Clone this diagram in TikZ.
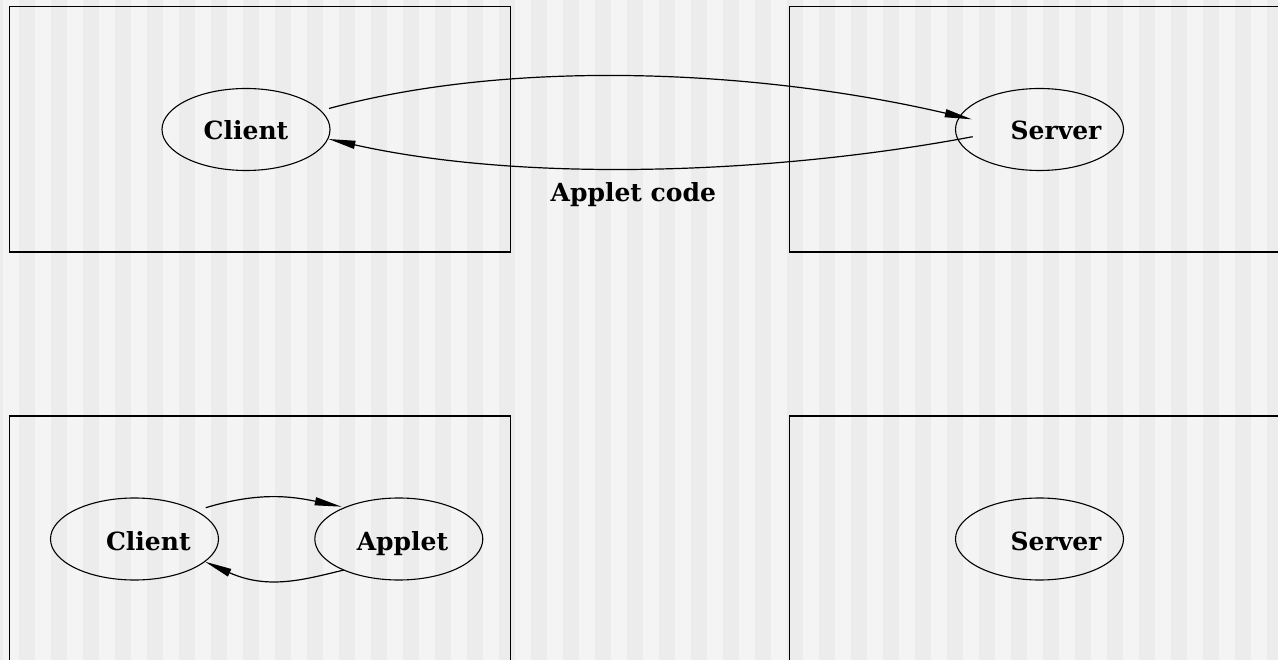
\documentclass[tikz,border=0pt]{standalone}
\usepackage{fontspec}
\newfontfamily\labelfont{DejaVu Serif}
\usetikzlibrary{shapes.geometric,arrows.meta,calc}
\definecolor{stripeA}{HTML}{F4F4F4}
\definecolor{stripeB}{HTML}{ECECEC}
\tikzset{
  ell/.style={draw=black, line width=1.1pt, ellipse, minimum width=168pt, minimum height=82pt, inner sep=0pt},
  lbl/.style={anchor=base, inner sep=0pt, font=\labelfont\fontsize{25}{30}\selectfont\bfseries},
  box/.style={draw=black, line width=1.3pt},
  edge/.style={draw=black, line width=1.2pt, -{Triangle[length=27pt,width=8pt]}}
}
\begin{document}
\begin{tikzpicture}[x=1pt,y=-1pt]
\useasboundingbox (0,0) rectangle (1278,660);
\fill[stripeA] (0,0) rectangle (1278,660);
\foreach \k in {-1,...,39} {
  \fill[stripeB] ({19+32*\k},0) rectangle ({35+32*\k},660);
}
% boxes
\draw[box] (9.5,6.5) rectangle (510.5,252);
\draw[box] (789.5,6.5) rectangle (1300,252);
\draw[box] (9.5,416) rectangle (510.5,700);
\draw[box] (789.5,416) rectangle (1300,700);
% nodes
\node[ell] (c1) at (246,129.5) {};
\node[ell] (s1) at (1039.5,129.5) {};
\node[ell] (c2) at (134.5,539) {};
\node[ell] (a2) at (398.8,539) {};
\node[ell] (s2) at (1039.5,539) {};
\node[lbl] (c1t) at (246,140) {Client};
\node[lbl] (s1t) at (1056,140) {Server};
\node[lbl] (c2t) at (148.3,550) {Client};
\node[lbl] (a2t) at (402.5,550) {Applet};
\node[lbl] (s2t) at (1056,550) {Server};
\node[lbl] (code) at (633.3,201.7) {Applet code};
% edges
\draw[edge] ($(c1.center)+(83,-21)$) .. controls (515,58) and (760,70) .. ($(s1.center)+(-67.8,-10.2)$);
\draw[edge] ($(s1.center)+(-66.8,7.2)$) .. controls (780,173) and (530,184) .. ($(c1.center)+(82.5,9.5)$);
\draw[edge] ($(c2.center)+(71.2,-31.3)$) .. controls (258,492) and (290,496) .. ($(a2.center)+(-57.1,-32.3)$);
\draw[edge] ($(a2.center)+(-54.8,31)$) .. controls (306,579) and (268.8,590.4) .. ($(c2.center)+(70.5,22.7)$);
\end{tikzpicture}
\end{document}
